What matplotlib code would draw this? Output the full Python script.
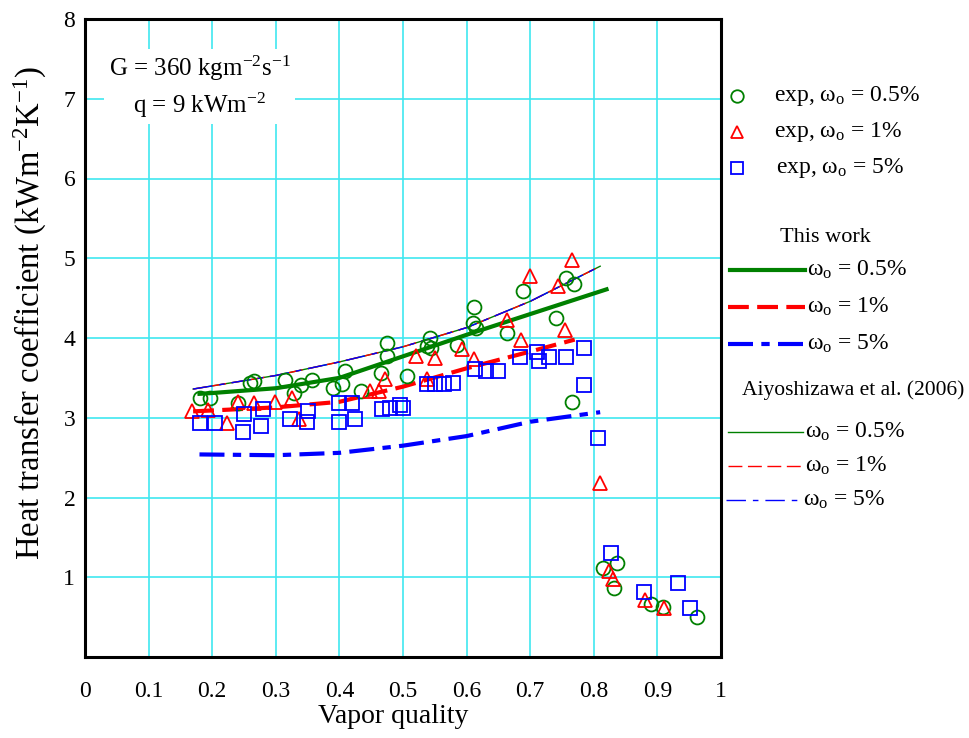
import matplotlib
matplotlib.use("Agg")
import matplotlib.pyplot as plt
from matplotlib.lines import Line2D

plt.rcParams['font.family'] = ['Liberation Serif', 'DejaVu Serif']
plt.rcParams['mathtext.fontset'] = 'custom'
plt.rcParams['mathtext.rm'] = 'Liberation Serif'
plt.rcParams['mathtext.it'] = 'Liberation Serif:italic'

# experimental points (vapor quality, h)
exp05_x = [0.181, 0.197, 0.240, 0.260, 0.266, 0.315, 0.328, 0.339, 0.357, 0.390, 0.404, 0.409,
           0.434, 0.465, 0.475, 0.475, 0.506, 0.537, 0.543, 0.544, 0.585, 0.610, 0.612, 0.614,
           0.664, 0.688, 0.740, 0.756, 0.769, 0.765, 0.815, 0.836, 0.831, 0.890, 0.909, 0.963]
exp05_y = [3.25, 3.25, 3.19, 3.43, 3.46, 3.47, 3.31, 3.41, 3.47, 3.37, 3.42, 3.58,
           3.33, 3.56, 3.94, 3.78, 3.52, 3.90, 4.00, 3.88, 3.91, 4.19, 4.39, 4.12,
           4.06, 4.59, 4.25, 4.75, 4.68, 3.20, 1.12, 1.18, 0.87, 0.67, 0.63, 0.50]

exp1_x = [0.168, 0.193, 0.223, 0.240, 0.266, 0.299, 0.325, 0.337, 0.448, 0.462, 0.471, 0.520,
          0.537, 0.550, 0.592, 0.612, 0.664, 0.685, 0.699, 0.743, 0.755, 0.765, 0.810, 0.824,
          0.830, 0.880, 0.911]
exp1_y = [3.08, 3.10, 2.94, 3.20, 3.19, 3.20, 3.25, 2.98, 3.33, 3.33, 3.48, 3.78,
          3.48, 3.75, 3.86, 3.74, 4.22, 3.97, 4.78, 4.65, 4.10, 4.98, 2.18, 1.08,
          0.98, 0.71, 0.61]

exp5_x = [0.181, 0.205, 0.248, 0.250, 0.280, 0.277, 0.323, 0.349, 0.350, 0.399, 0.399, 0.420,
          0.424, 0.467, 0.479, 0.496, 0.500, 0.538, 0.550, 0.565, 0.579, 0.613, 0.631, 0.649,
          0.684, 0.711, 0.714, 0.730, 0.756, 0.784, 0.784, 0.806, 0.827, 0.879, 0.933, 0.952]
exp5_y = [2.93, 2.93, 2.82, 3.05, 3.11, 2.90, 2.98, 2.95, 3.08, 2.95, 3.18, 3.18,
          2.99, 3.11, 3.12, 3.16, 3.12, 3.42, 3.42, 3.42, 3.44, 3.61, 3.59, 3.59,
          3.76, 3.82, 3.71, 3.76, 3.76, 3.87, 3.41, 2.74, 1.30, 0.81, 0.93, 0.61]

# this work predictions
tw05_x = [0.18, 0.20, 0.30, 0.40, 0.50, 0.60, 0.70, 0.82]
tw05_y = [3.30, 3.31, 3.37, 3.50, 3.77, 4.04, 4.30, 4.61]
tw1_x = [0.17, 0.30, 0.40, 0.50, 0.60, 0.70, 0.77]
tw1_y = [3.08, 3.13, 3.20, 3.39, 3.62, 3.83, 3.98]
tw5_x = [0.18, 0.30, 0.40, 0.50, 0.60, 0.70, 0.81]
tw5_y = [2.54, 2.53, 2.56, 2.65, 2.77, 2.95, 3.07]

# Aiyoshizawa et al. (2006) - the three curves coincide
ai_x = [0.17, 0.30, 0.40, 0.50, 0.60, 0.70, 0.81]
ai05_y = [3.36, 3.53, 3.70, 3.89, 4.13, 4.46, 4.90]
ai1_y = [3.36, 3.53, 3.70, 3.89, 4.13, 4.46, 4.90]
ai5_y = [3.36, 3.53, 3.70, 3.89, 4.13, 4.46, 4.90]

x_ticks = [0, 0.1, 0.2, 0.3, 0.4, 0.5, 0.6, 0.7, 0.8, 0.9, 1]
x_labels = ['0', '0.1', '0.2', '0.3', '0.4', '0.5', '0.6', '0.7', '0.8', '0.9', '1']
y_ticks = [1, 2, 3, 4, 5, 6, 7, 8]

green = '#008000'
red = '#FF0000'
blue = '#0000FF'
dash_r = (0, (5, 2))
dashdot_b = (0, (6, 2, 2, 2))
dash_thin = (0, (10, 4))
dashdot_thin = (0, (14, 5, 4, 5))

fig = plt.figure(figsize=(9.69, 7.38), dpi=100)
ax = fig.add_axes([85 / 969, 1 - 657 / 738, 636 / 969, 638 / 738])

ax.set_xlim(0, 1)
ax.set_ylim(0, 8)
ax.set_xticks(x_ticks)
ax.set_xticklabels(x_labels)
ax.set_yticks(y_ticks)
ax.grid(True, color='#40E8F0', linewidth=1.2)
ax.set_axisbelow(True)
ax.tick_params(length=0, labelsize=17)
ax.tick_params(axis='x', pad=17)
ax.tick_params(axis='y', pad=7)
for s in ax.spines.values():
    s.set_linewidth(2.2)

ax.plot(ai_x, ai05_y, color=green, lw=1.0, zorder=3)
ax.plot(ai_x, ai1_y, color=red, lw=1.0, linestyle=dash_thin, zorder=3)
ax.plot(ai_x, ai5_y, color=blue, lw=1.0, linestyle=dashdot_thin, zorder=3)

ax.plot(tw05_x, tw05_y, color=green, lw=3.0, zorder=3)
ax.plot(tw1_x, tw1_y, color=red, lw=3.0, linestyle=dash_r, zorder=3)
ax.plot(tw5_x, tw5_y, color=blue, lw=3.0, linestyle=dashdot_b, zorder=3)

mk = dict(linestyle='none', markersize=10, markerfacecolor='none', markeredgewidth=1.3, zorder=4)
ax.plot(exp05_x, exp05_y, marker='o', markeredgecolor=green, **mk)
ax.plot(exp1_x, exp1_y, marker='^', markeredgecolor=red, **mk)
ax.plot(exp5_x, exp5_y, marker='s', markeredgecolor=blue, **mk)

ax.set_xlabel('Vapor quality', fontsize=20)
ax.xaxis.set_label_coords(0.485, -0.073)
ax.set_ylabel('Heat transfer coefficient (kWm$^{-2}$K$^{-1}$)', fontsize=23.5)
ax.yaxis.set_label_coords(-0.057, 0.54)

ax.text(0.18, 7.15, 'G = 360 kgm$^{-2}$s$^{-1}$\nq = 9 kWm$^{-2}$', fontsize=18,
        ha='center', va='center', linespacing=1.35,
        bbox=dict(facecolor='white', edgecolor='none', pad=3), zorder=5)

# legend drawn on the figure to the right of the axes
W, H = 969.0, 738.0
fs = 17
om = r'$\mathrm{\omega_o}$'

def fx(px):
    return px / W

def fy(py):
    return 1 - py / H

fig.add_artist(Line2D([fx(737)], [fy(96)], marker='o', markersize=9, markerfacecolor='none',
                      markeredgecolor=green, markeredgewidth=1.3))
fig.add_artist(Line2D([fx(737)], [fy(132)], marker='^', markersize=9, markerfacecolor='none',
                      markeredgecolor=red, markeredgewidth=1.3))
fig.add_artist(Line2D([fx(737)], [fy(168)], marker='s', markersize=9, markerfacecolor='none',
                      markeredgecolor=blue, markeredgewidth=1.3))
fig.text(fx(774), fy(96), 'exp, ' + om + ' = 0.5%', fontsize=fs, va='center')
fig.text(fx(774), fy(132), 'exp, ' + om + ' = 1%', fontsize=fs, va='center')
fig.text(fx(776), fy(168), 'exp, ' + om + ' = 5%', fontsize=fs, va='center')

fig.text(fx(825), fy(237), 'This work', fontsize=16, va='center', ha='center')
fig.add_artist(Line2D([fx(730), fx(805)], [fy(270), fy(270)], color=green, lw=3.0))
fig.add_artist(Line2D([fx(728), fx(805)], [fy(307), fy(307)], color=red, lw=3.0, linestyle=dash_r))
fig.add_artist(Line2D([fx(728), fx(805)], [fy(344), fy(344)], color=blue, lw=3.0, linestyle=dashdot_b))
fig.text(fx(807), fy(270), om + ' = 0.5%', fontsize=fs, va='center')
fig.text(fx(807), fy(307), om + ' = 1%', fontsize=fs, va='center')
fig.text(fx(807), fy(344), om + ' = 5%', fontsize=fs, va='center')

fig.text(fx(853), fy(390), 'Aiyoshizawa et al. (2006)', fontsize=15.5, va='center', ha='center')
fig.add_artist(Line2D([fx(728), fx(803)], [fy(432), fy(432)], color=green, lw=1.0))
fig.add_artist(Line2D([fx(728), fx(803)], [fy(466), fy(466)], color=red, lw=1.0, linestyle=dash_thin))
fig.add_artist(Line2D([fx(726), fx(803)], [fy(500), fy(500)], color=blue, lw=1.0, linestyle=dashdot_thin))
fig.text(fx(805), fy(432), om + ' = 0.5%', fontsize=fs, va='center')
fig.text(fx(805), fy(466), om + ' = 1%', fontsize=fs, va='center')
fig.text(fx(803), fy(500), om + ' = 5%', fontsize=fs, va='center')

fig.savefig('out.png', dpi=100)
